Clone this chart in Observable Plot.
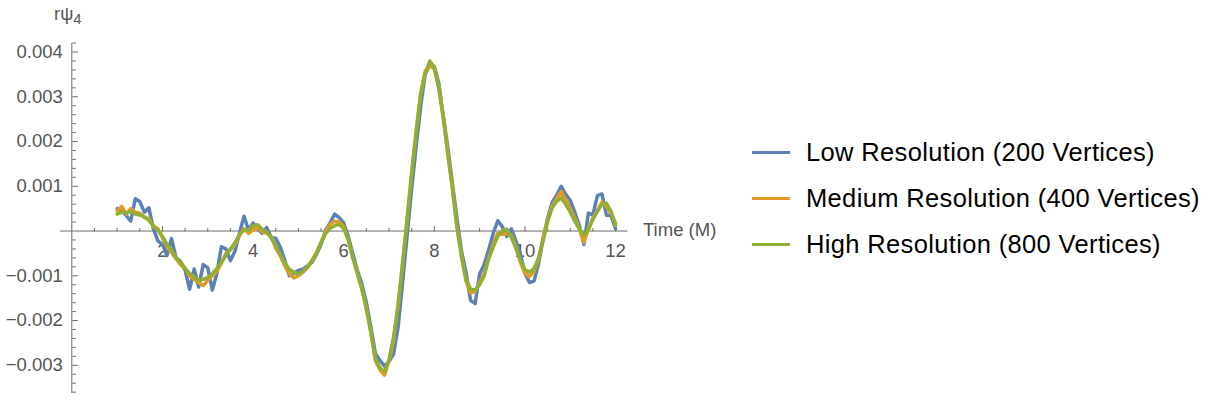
<!DOCTYPE html>
<html><head><meta charset="utf-8">
<script src="https://cdn.jsdelivr.net/npm/d3@7"></script>
<script src="https://cdn.jsdelivr.net/npm/@observablehq/plot@0.6"></script>
<style>
body{margin:0;background:#fff;font-family:"Liberation Sans",Arial,sans-serif;}
#wrap{position:relative;width:1210px;height:405px;overflow:hidden;}
#chart{position:absolute;left:0;top:0;}
.lbl{position:absolute;color:#555;font-size:18.5px;white-space:nowrap;}
.lbl sub{font-size:15px;vertical-align:-4px;}
#legend{position:absolute;left:752px;top:129px;}
.row{display:flex;align-items:center;height:46px;}
.sw{width:38px;height:3px;margin-right:16px;}
.txt{font-size:25.5px;letter-spacing:0.35px;color:#000;white-space:nowrap;}
</style></head>
<body>
<div id="wrap">
  <div id="chart"></div>
  <div class="lbl" style="left:54px;top:3px;">rψ<sub>4</sub></div>
  <div class="lbl" style="left:643px;top:219px;">Time (M)</div>
  <div id="legend"></div>
</div>
<script>
// ---- data (values in units of 0.001) ----
const time = [1.0,1.1,1.2,1.3,1.4,1.5,1.6,1.7,1.8,1.9,
  2.0,2.1,2.2,2.3,2.4,2.5,2.6,2.7,2.8,2.9,
  3.0,3.1,3.2,3.3,3.4,3.5,3.6,3.7,3.8,3.9,
  4.0,4.1,4.2,4.3,4.4,4.5,4.6,4.7,4.8,4.9,
  5.0,5.1,5.2,5.3,5.4,5.5,5.6,5.7,5.8,5.9,
  6.0,6.1,6.2,6.3,6.4,6.5,6.6,6.7,6.8,6.9,
  7.0,7.1,7.2,7.3,7.4,7.5,7.6,7.7,7.8,7.9,
  8.0,8.1,8.2,8.3,8.4,8.5,8.6,8.7,8.8,8.9,
  9.0,9.1,9.2,9.3,9.4,9.5,9.6,9.7,9.8,9.9,
  10.0,10.1,10.2,10.3,10.4,10.5,10.6,10.7,10.8,10.9,
  11.0,11.1,11.2,11.3,11.4,11.5,11.6,11.7,11.8,11.9,
  12.0];

const lowRes = [0.50,0.45,0.35,0.22,0.72,0.66,0.42,0.52,0.05,-0.22,
  -0.30,-0.55,-0.17,-0.60,-0.68,-0.88,-1.30,-0.85,-1.25,-0.75,
  -0.82,-1.32,-0.95,-0.35,-0.40,-0.66,-0.45,-0.05,0.33,0.02,
  0.18,0.05,-0.05,0.08,-0.15,-0.16,-0.36,-0.65,-1.00,-0.95,
  -0.88,-0.85,-0.78,-0.70,-0.52,-0.30,0.02,0.18,0.38,0.30,
  0.18,-0.12,-0.50,-0.88,-1.18,-1.60,-2.15,-2.74,-2.89,-3.02,
  -2.92,-2.75,-2.15,-1.15,-0.10,0.95,1.90,2.80,3.51,3.72,
  3.68,3.29,2.55,1.85,1.05,0.28,-0.45,-0.93,-1.55,-1.62,
  -0.96,-0.75,-0.42,-0.05,0.23,0.10,-0.12,0.05,-0.22,-0.51,
  -0.95,-1.15,-1.12,-0.73,-0.18,0.28,0.64,0.80,1.00,0.82,
  0.68,0.42,0.12,-0.30,0.40,0.36,0.79,0.83,0.35,0.35,
  0.05];

const mediumRes = [0.45,0.55,0.38,0.50,0.42,0.40,0.30,0.28,0.10,0.05,
  -0.15,-0.35,-0.48,-0.62,-0.76,-0.82,-1.00,-1.08,-1.15,-1.22,
  -1.10,-1.00,-0.90,-0.72,-0.50,-0.42,-0.30,-0.10,0.05,-0.05,
  0.02,0.10,-0.02,-0.05,-0.12,-0.38,-0.55,-0.78,-0.95,-1.05,
  -1.00,-0.92,-0.82,-0.65,-0.48,-0.25,-0.02,0.15,0.22,0.20,
  0.10,-0.20,-0.60,-0.95,-1.30,-1.75,-2.25,-2.90,-3.10,-3.22,
  -2.90,-2.45,-1.65,-0.75,0.30,1.30,2.25,3.10,3.58,3.70,
  3.62,3.20,2.50,1.75,0.95,0.10,-0.55,-1.12,-1.38,-1.35,
  -1.15,-0.95,-0.60,-0.30,-0.05,-0.08,-0.05,-0.10,-0.35,-0.70,
  -0.95,-1.02,-0.90,-0.62,-0.15,0.25,0.55,0.72,0.88,0.70,
  0.50,0.28,0.05,-0.25,0.05,0.30,0.45,0.65,0.55,0.40,
  0.18];

const highRes = [0.38,0.42,0.40,0.44,0.38,0.36,0.32,0.24,0.12,0.02,
  -0.12,-0.30,-0.42,-0.60,-0.70,-0.84,-0.95,-1.02,-1.10,-1.08,
  -1.04,-0.95,-0.84,-0.70,-0.54,-0.40,-0.26,-0.08,0.02,0.02,
  0.12,0.14,0.04,-0.02,-0.15,-0.32,-0.52,-0.72,-0.85,-0.92,
  -0.96,-0.90,-0.80,-0.68,-0.50,-0.26,-0.06,0.06,0.12,0.15,
  0.05,-0.18,-0.58,-0.92,-1.28,-1.72,-2.28,-2.85,-3.06,-3.14,
  -2.88,-2.37,-1.68,-0.70,0.23,1.30,2.20,3.05,3.50,3.80,
  3.66,3.18,2.55,1.70,0.95,0.08,-0.58,-1.08,-1.30,-1.32,
  -1.20,-1.00,-0.62,-0.36,-0.12,0.01,0.04,-0.14,-0.38,-0.66,
  -0.86,-0.92,-0.84,-0.60,-0.22,0.20,0.52,0.66,0.74,0.60,
  0.42,0.22,0.04,-0.08,0.02,0.26,0.44,0.60,0.62,0.44,
  0.12];

const seriesNames = ["Low Resolution (200 Vertices)", "Medium Resolution (400 Vertices)", "High Resolution (800 Vertices)"];
const seriesColors = ["#5E81B5", "#E19C24", "#8FB032"];
const seriesValues = [lowRes, mediumRes, highRes];

const xMajorTicks = [2, 4, 6, 8, 10, 12];
const xMinorTicks = [0.5, 1, 1.5, 2.5, 3, 3.5, 4.5, 5, 5.5, 6.5, 7, 7.5, 8.5, 9, 9.5, 10.5, 11, 11.5];
const yMajorTicks = [-0.003, -0.002, -0.001, 0.001, 0.002, 0.003, 0.004];
const yMinorTicks = [-0.0036,-0.0034,-0.0032,-0.0028,-0.0026,-0.0024,-0.0022,-0.0018,-0.0016,-0.0014,-0.0012,
  -0.0008,-0.0006,-0.0004,-0.0002,0.0002,0.0004,0.0006,0.0008,0.0012,0.0014,0.0016,0.0018,
  0.0022,0.0024,0.0026,0.0028,0.0032,0.0034,0.0036,0.0038,0.0042];

// ---- layout ----
const W = 740, H = 405;
const mL = 60, mR = 112.7, mT = 43, mB = 12;
const xDomain = [-0.25, 12.27], yDomain = [-0.00363, 0.00419];
const xs = d3.scaleLinear(xDomain, [mL, W - mR]);
const ys = d3.scaleLinear(yDomain, [H - mB, mT]);
const axisDy = ys(0) - mT;          // move top axis onto y = 0
const axisDx = xs(0) - (W - mR);    // move right axis onto x = 0
const axisColor = "#6b6b6b";

const rows = seriesValues.flatMap((vals, k) =>
  vals.map((v, i) => ({t: time[i], v: v * 1e-3, s: seriesNames[k]})));

const chart = Plot.plot({
  width: W, height: H,
  marginLeft: mL, marginRight: mR, marginTop: mT, marginBottom: mB,
  x: {domain: xDomain},
  y: {domain: yDomain},
  color: {domain: seriesNames, range: seriesColors},
  style: {fontFamily: '"Liberation Sans", Arial, sans-serif', fontSize: "18.5px", color: "#555", background: "#fff", overflow: "visible"},
  marks: [
    Plot.ruleY([0], {stroke: axisColor}),
    Plot.ruleX([0], {stroke: axisColor}),
    Plot.axisX(xMajorTicks, {anchor: "top", dy: axisDy, tickSize: 5.5, tickFormat: () => "", label: null, stroke: axisColor}),
    Plot.axisX(xMinorTicks, {anchor: "top", dy: axisDy, tickSize: 3.5, tickFormat: () => "", label: null, stroke: axisColor}),
    Plot.axisY(yMajorTicks, {anchor: "right", dx: axisDx, tickSize: 5.5, tickFormat: () => "", label: null, stroke: axisColor}),
    Plot.axisY(yMinorTicks, {anchor: "right", dx: axisDx, tickSize: 3.5, tickFormat: () => "", label: null, stroke: axisColor}),
    Plot.text(xMajorTicks, {x: d => d, y: 0, dy: 12.5, lineAnchor: "top", text: d => String(d), fill: "#555"}),
    Plot.text(yMajorTicks, {x: 0, y: d => d, dx: -9, textAnchor: "end", text: d => d3.format(".3f")(d), fill: "#555"}),
    Plot.line(rows, {x: "t", y: "v", z: "s", stroke: "s", strokeWidth: 3.5, strokeLinejoin: "round"})
  ]
});
document.getElementById("chart").appendChild(chart);

// ---- legend ----
const legend = document.getElementById("legend");
seriesNames.forEach((name, k) => {
  const row = document.createElement("div");
  row.className = "row";
  const sw = document.createElement("div");
  sw.className = "sw";
  sw.style.background = seriesColors[k];
  const tx = document.createElement("div");
  tx.className = "txt";
  tx.textContent = name;
  row.appendChild(sw); row.appendChild(tx);
  legend.appendChild(row);
});
</script>
</body></html>
